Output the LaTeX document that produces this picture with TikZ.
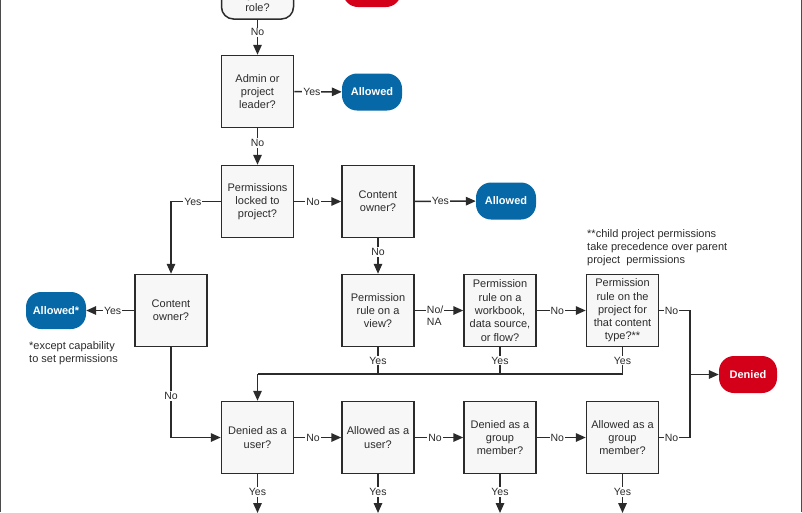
\documentclass[tikz,border=0pt]{standalone}
\usepackage{fontspec}
\setmainfont{Liberation Sans}
\usetikzlibrary{arrows.meta}
\definecolor{tabblue}{HTML}{0668A6}
\definecolor{tabred}{HTML}{D4001A}
\definecolor{boxgray}{HTML}{F7F7F7}
\definecolor{ink}{HTML}{2B2B2B}

\begin{document}
\begin{tikzpicture}[x=1pt,y=-1pt,>={Triangle[length=10pt,width=8.5pt]},
	box/.style={draw=ink,fill=boxgray,line width=1.5pt,minimum width=72pt,minimum height=72pt,inner sep=0pt,align=center,text=ink,font=\fontsize{11}{13.3}\selectfont},
	term/.style={box,rounded corners=12pt,minimum height=48.6pt},
	allowed/.style={fill=tabblue,text=white,rounded corners=15pt,minimum width=60pt,minimum height=37pt,font=\bfseries\fontsize{11}{13}\selectfont},
	denied/.style={allowed,fill=tabred,minimum width=58pt},
	lbl/.style={fill=white,inner sep=1pt,text=ink,font=\fontsize{10.5}{11.5}\selectfont},
	link/.style={draw=ink,line width=1.5pt},
	note/.style={align=left,anchor=north west,inner sep=0pt,text=ink,font=\fontsize{11}{13.3}\selectfont}]
	\useasboundingbox (0,0) rectangle (802,512);
	\clip (0,0) rectangle (802,512);
	
	%frame
	\draw[line width=1.3pt,draw=ink!85] (0.65,0) -- (0.65,512);
	\draw[line width=1.3pt,draw=ink!85] (801.35,0) -- (801.35,512);
	
	%decisions
	\node[term] (siterole) at (257.5,-5.3) {Restricted\\by site\\role?};
	\node[denied] (deny0) at (372,-11.5) {Denied};
	\node[box] (admin) at (257.5,91.5) {Admin or\\project\\leader?};
	\node[allowed] (allow1) at (372,92) {Allowed};
	\node[box] (locked) at (257.5,201.5) {Permissions\\locked to\\project?};
	\node[box] (owner2) at (378,201.5) {Content\\owner?};
	\node[allowed] (allow2) at (506,201) {Allowed};
	\node[box] (owner1) at (171,310.5) {Content\\owner?};
	\node[allowed] (allow3) at (56,310.5) {Allowed*};
	\node[box] (ruleview) at (378,310.5) {Permission\\rule on a\\view?};
	\node[box] (rulewb) at (500,310.5) {Permission\\rule on a\\workbook,\\data source,\\or flow?};
	\node[box] (ruleproj) at (622.5,310.5) {Permission\\rule on the\\project for\\that content\\type?**};
	\node[denied] (deny1) at (748,374.5) {Denied};
	\node[box] (deniedu) at (257.5,437.5) {Denied as a\\user?};
	\node[box] (allowedu) at (378,437.5) {Allowed as a\\user?};
	\node[box] (deniedg) at (500,437.5) {Denied as a\\group\\member?};
	\node[box] (allowedg) at (622.5,437.5) {Allowed as a\\group\\member?};
	
	%notes
	\node[note] (childnote) at (587,229) {**child project permissions\\take precedence over parent\\project\ \ permissions};
	\node[note] (ownernote) at (29,341) {*except capability\\to set permissions};
	
	\coordinate (join) at (690,374.5);
	\coordinate (bus) at (257.5,374);
	\coordinate (endA) at (257.5,513);
	\coordinate (endB) at (378,513);
	\coordinate (endC) at (500,513);
	\coordinate (endD) at (622.5,513);
	
	%upper part
	\draw[link,->] (siterole) -- node[lbl,pos=.36] {No} (admin);
	\draw[link,->] (admin) -- node[lbl,pos=.37] {Yes} (allow1);
	\draw[link,->] (admin) -- node[lbl,pos=.4] {No} (locked);
	\draw[link,->] (locked) -- node[lbl,pos=.4] {No} (owner2);
	\draw[link,->] (locked.west) -| node[lbl,pos=.28] {Yes} (owner1.north);
	\draw[link,->] (owner2) -- node[lbl,pos=.42] {Yes} (allow2);
	\draw[link,->] (owner2) -- node[lbl,pos=.39] {No} (ruleview);
	\draw[link,->] (owner1) -- node[lbl,pos=.45] {Yes} (allow3);
	\draw[link,->] (owner1.south) |- node[lbl,pos=.27] {No} (deniedu.west);
	
	%rules
	\draw[link,->] (ruleview) -- node[lbl,align=left,anchor=north,yshift=6pt,pos=.42] {No/\\NA} (rulewb);
	\draw[link,->] (rulewb) -- node[lbl,pos=.42] {No} (ruleproj);
	\draw[link] (ruleproj.east) -| node[lbl,pos=.2] {No} (join);
	\draw[link] (ruleproj.south) |- node[lbl,pos=.25] {Yes} (bus);
	\draw[link] (ruleview.south) -- node[lbl] {Yes} (ruleview.south |- bus);
	\draw[link] (rulewb.south) -- node[lbl] {Yes} (rulewb.south |- bus);
	\draw[link,->] (bus) -- (deniedu);
	\draw[link,->] (join) -- (deny1);
	
	%users and groups
	\draw[link,->] (deniedu) -- node[lbl,pos=.4] {No} (allowedu);
	\draw[link,->] (allowedu) -- node[lbl,pos=.42] {No} (deniedg);
	\draw[link,->] (deniedg) -- node[lbl,pos=.42] {No} (allowedg);
	\draw[link] (allowedg.east) -| node[lbl,pos=.2] {No} (join);
	\foreach \n/\e in {deniedu/endA,allowedu/endB,deniedg/endC,allowedg/endD}
		\draw[link,->] (\n) -- node[lbl,pos=.46] {Yes} (\e);
\end{tikzpicture}
\end{document}
